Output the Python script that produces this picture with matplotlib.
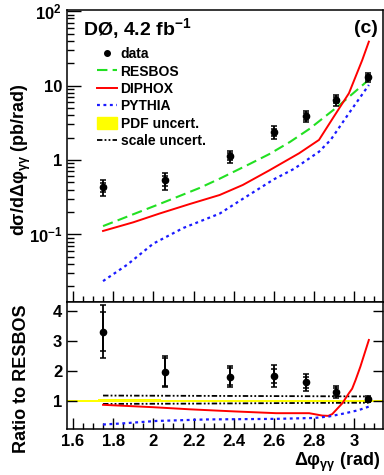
import numpy as np
import matplotlib.pyplot as plt
from matplotlib.lines import Line2D
from matplotlib.patches import Patch
from matplotlib.ticker import FixedLocator, FixedFormatter, MultipleLocator, NullFormatter

# stile tipo ROOT: Helvetica grassetto
plt.rcParams['font.family'] = ['Liberation Sans', 'DejaVu Sans']
plt.rcParams['font.weight'] = 'bold'
plt.rcParams['mathtext.fontset'] = 'custom'
plt.rcParams['mathtext.rm'] = 'Liberation Sans:bold'
plt.rcParams['mathtext.it'] = 'Liberation Sans:bold'
plt.rcParams['mathtext.bf'] = 'Liberation Sans:bold'

# --- dati ---
x_data = [1.75, 2.06, 2.38, 2.60, 2.76, 2.91, 3.07]
xs_data = [0.43, 0.53, 1.12, 2.38, 3.85, 6.4, 12.9]
xs_err_tot = [0.10, 0.13, 0.20, 0.45, 0.65, 1.0, 1.8]
xs_err_stat = [0.06, 0.08, 0.12, 0.26, 0.38, 0.6, 1.0]

x_resbos = [1.75, 1.90, 2.03, 2.23, 2.33, 2.478, 2.577, 2.68, 2.775, 2.92, 3.072]
y_resbos = [0.129, 0.186, 0.255, 0.42, 0.56, 0.88, 1.2, 1.75, 2.6, 5.3, 12.0]

x_diphox = [1.75, 1.90, 2.03, 2.18, 2.33, 2.445, 2.575, 2.725, 2.824, 2.898, 2.973, 3.039, 3.072]
y_diphox = [0.111, 0.145, 0.19, 0.255, 0.338, 0.461, 0.72, 1.23, 1.86, 3.83, 7.9, 22.0, 39.0]

x_pythia = [1.75, 1.87, 2.0, 2.15, 2.33, 2.445, 2.60, 2.70, 2.824, 2.882, 2.973, 3.072]
y_pythia = [0.0235, 0.039, 0.075, 0.122, 0.19, 0.30, 0.55, 0.76, 1.29, 1.86, 4.25, 10.2]

# pannello rapporto
ratio_data = [3.31, 1.97, 1.80, 1.82, 1.61, 1.28, 1.04]
ratio_tot_hi = [4.20, 2.49, 2.16, 2.20, 1.88, 1.49, 1.16]
ratio_tot_lo = [2.44, 1.44, 1.45, 1.45, 1.33, 1.08, 0.94]
ratio_stat_hi = [3.96, 2.42, 2.08, 2.06, 1.80, 1.42, 1.10]
ratio_stat_lo = [2.66, 1.50, 1.53, 1.58, 1.42, 1.16, 0.97]

x_r_diphox = [1.75, 2.0, 2.18, 2.4, 2.61, 2.775, 2.84, 2.87, 2.89, 2.94, 2.973, 2.989, 3.006, 3.03, 3.072]
r_diphox = [0.86, 0.78, 0.71, 0.64, 0.58, 0.58, 0.50, 0.49, 0.55, 0.91, 1.25, 1.40, 1.69, 2.14, 3.03]

x_r_pythia = [1.75, 1.85, 2.016, 2.263, 2.61, 2.80, 2.874, 2.956, 3.02, 3.072]
r_pythia = [0.20, 0.24, 0.32, 0.37, 0.39, 0.42, 0.47, 0.58, 0.68, 0.80]

x_pdf = [1.5708, 1.88, 2.2, 3.1416]
pdf_lo = [0.97, 0.97, 0.97, 0.97]
pdf_hi = [1.03, 1.06, 1.03, 1.03]

x_scale = [1.75, 2.2, 2.7, 3.07]
scale_hi = [1.17, 1.16, 1.15, 1.14]
scale_lo = [0.89, 0.90, 0.92, 0.93]

XLIM = (1.5708, 3.1416)

# stili
RES_STYLE = {'color': '#22e022', 'linestyle': (0, (5, 2.5)), 'linewidth': 1.5}
DIP_STYLE = {'color': 'red', 'linestyle': '-', 'linewidth': 1.4}
PYT_STYLE = {'color': '#1a1aff', 'linestyle': (0, (1.3, 1.6)), 'linewidth': 1.6}
SCL_STYLE = {'color': 'black', 'linestyle': (0, (3, 1.2, 1, 1.2, 1, 1.2)), 'linewidth': 1.3}


def setup_ticks(ax):
    ax.set_xlim(*XLIM)
    ax.xaxis.set_major_locator(MultipleLocator(0.2))
    ax.xaxis.set_minor_locator(MultipleLocator(0.05))
    ax.tick_params(axis='x', which='major', direction='in', length=8, width=1, labelsize=12)
    ax.tick_params(axis='x', which='minor', direction='in', length=4, width=1)
    for s in ax.spines.values():
        s.set_linewidth(1.1)


def draw_errors(ax, x, y, lo_tot, hi_tot, lo_stat, hi_stat):
    x = np.asarray(x)
    y = np.asarray(y)
    ax.errorbar(x, y, yerr=[y - np.asarray(lo_tot), np.asarray(hi_tot) - y], fmt='none',
                ecolor='black', elinewidth=1.3, capsize=2, capthick=1.1, zorder=5)
    ax.errorbar(x, y, yerr=[y - np.asarray(lo_stat), np.asarray(hi_stat) - y], fmt='none',
                ecolor='black', elinewidth=1.3, capsize=2, capthick=1.1, zorder=5)
    ax.plot(x, y, 'o', color='black', markersize=4.5, zorder=6)


fig = plt.figure(figsize=(3.84, 4.75), dpi=100)
ax1 = fig.add_axes([0.1745, 0.3642, 0.8225, 0.6148])
ax2 = fig.add_axes([0.1745, 0.0968, 0.8225, 0.2674])

# --- pannello superiore ---
ax1.set_yscale('log')
ax1.plot(x_resbos, y_resbos, **RES_STYLE)
ax1.plot(x_diphox, y_diphox, **DIP_STYLE)
ax1.plot(x_pythia, y_pythia, **PYT_STYLE)
xs = np.asarray(xs_data)
draw_errors(ax1, x_data, xs, xs - np.asarray(xs_err_tot), xs + np.asarray(xs_err_tot),
            xs - np.asarray(xs_err_stat), xs + np.asarray(xs_err_stat))
setup_ticks(ax1)
ax1.set_ylim(0.0123, 104)
ax1.yaxis.set_major_locator(FixedLocator([0.1, 1, 10, 100]))
ax1.yaxis.set_major_formatter(FixedFormatter([r'$10^{-1}$', '1', '10', r'$10^{2}$']))
minors = [m * d for d in [0.01, 0.1, 1, 10] for m in range(2, 10)]
ax1.yaxis.set_minor_locator(FixedLocator(minors))
ax1.yaxis.set_minor_formatter(NullFormatter())
ax1.tick_params(axis='y', which='major', direction='in', length=10, width=1, labelsize=12)
ax1.tick_params(axis='y', which='minor', direction='in', length=5, width=1)
ax1.tick_params(axis='x', labelbottom=False)

ax1.text(0.05, 0.938, r'DØ, 4.2 fb$^{-1}$', transform=ax1.transAxes, fontsize=14,
         ha='left', va='center')
ax1.text(0.984, 0.938, '(c)', transform=ax1.transAxes, fontsize=14, ha='right', va='center')

handles = [
    Line2D([], [], marker='o', color='black', linestyle='none', markersize=4),
    Line2D([], [], **RES_STYLE),
    Line2D([], [], **DIP_STYLE),
    Line2D([], [], **PYT_STYLE),
    Patch(facecolor='yellow', edgecolor='yellow'),
    Line2D([], [], **SCL_STYLE),
]
labels = ['data', 'RESBOS', 'DIPHOX', 'PYTHIA', 'PDF uncert.', 'scale uncert.']
ax1.legend(handles, labels, loc='upper left', bbox_to_anchor=(0.095, 0.872), frameon=False,
           fontsize=10, handlelength=1.45, handleheight=0.9, handletextpad=0.25,
           labelspacing=0.24, borderaxespad=0, borderpad=0)

# --- pannello rapporto ---
ax2.fill_between(x_pdf, pdf_lo, pdf_hi, step='mid', color='yellow', linewidth=0, zorder=1)
ax2.plot(x_scale, scale_hi, **SCL_STYLE, zorder=2)
ax2.plot(x_scale, scale_lo, **SCL_STYLE, zorder=2)
ax2.plot(x_r_diphox, r_diphox, **DIP_STYLE, zorder=3)
ax2.plot(x_r_pythia, r_pythia, **PYT_STYLE, zorder=3)
draw_errors(ax2, x_data, ratio_data, ratio_tot_lo, ratio_tot_hi, ratio_stat_lo, ratio_stat_hi)
setup_ticks(ax2)
ax2.set_ylim(0.05, 4.3)
ax2.yaxis.set_major_locator(FixedLocator([1, 2, 3, 4]))
ax2.yaxis.set_major_formatter(FixedFormatter(['1', '2', '3', '4']))
ax2.tick_params(axis='y', which='major', direction='in', length=7, width=1, labelsize=12,
                right=True)
ax2.set_xticks([1.6, 1.8, 2.0, 2.2, 2.4, 2.6, 2.8, 3.0])
ax2.set_xticklabels(['1.6', '1.8', '2', '2.2', '2.4', '2.6', '2.8', '3'])

fig.text(0.057, 0.663, r'dσ/dΔφ$_{γγ}$ (pb/rad)', rotation=90, fontsize=13,
         ha='center', va='center')
fig.text(0.057, 0.202, 'Ratio to RESBOS', rotation=90, fontsize=13, ha='center', va='center')
fig.text(0.992, 0.027, r'Δφ$_{γγ}$ (rad)', fontsize=13, ha='right', va='center')

fig.savefig('out.png', dpi=100)
